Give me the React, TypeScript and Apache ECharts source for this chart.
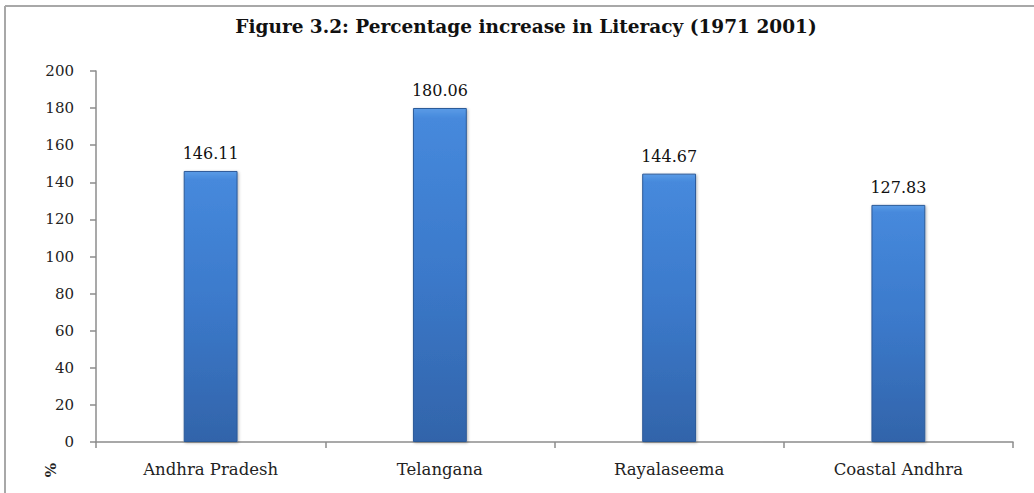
import React, { useEffect, useRef } from "react";
import * as echarts from "echarts";

const categories = ["Andhra Pradesh", "Telangana", "Rayalaseema", "Coastal Andhra"];
const values = [146.11, 180.06, 144.67, 127.83];
const valueLabels = ["146.11", "180.06", "144.67", "127.83"];
const titleText = "Figure 3.2: Percentage increase in Literacy (1971 2001)";
const yMin = 0;
const yMax = 200;
const yInterval = 20;

export default function App() {
  const ref = useRef<HTMLDivElement>(null);
  useEffect(() => {
    if (!ref.current) return;
    const chart = echarts.init(ref.current, null, { renderer: "svg" });
    const serif = "DejaVu Serif";
    chart.setOption({
      animation: false,
      backgroundColor: "#ffffff",
      title: {
        text: titleText,
        left: 521,
        top: 12,
        textAlign: "center",
        textStyle: { fontFamily: serif, fontWeight: "bold", fontSize: 18.5, color: "#111" },
      },
      grid: { left: 96, right: 21, top: 71, bottom: 51, containLabel: false },
      xAxis: {
        type: "category",
        data: categories,
        axisLine: { lineStyle: { color: "#8c8c8c", width: 1.5 } },
        axisTick: { show: true, length: 6, lineStyle: { color: "#8c8c8c", width: 1.5 } },
        axisLabel: { fontFamily: serif, fontSize: 16.5, color: "#222", margin: 19 },
      },
      yAxis: {
        type: "value",
        min: yMin,
        max: yMax,
        interval: yInterval,
        splitLine: { show: false },
        axisLine: { show: true, lineStyle: { color: "#8c8c8c", width: 1.5 } },
        axisTick: { show: true, length: 6, lineStyle: { color: "#8c8c8c", width: 1.5 } },
        axisLabel: { fontFamily: serif, fontSize: 15, color: "#222", margin: 22 },
      },
      graphic: [
        {
          type: "line",
          shape: { x1: 5, y1: 6, x2: 1040, y2: 6 },
          style: { stroke: "#a8a8a8", lineWidth: 2 },
        },
        {
          type: "line",
          shape: { x1: 5, y1: 6, x2: 5, y2: 500 },
          style: { stroke: "#a8a8a8", lineWidth: 2 },
        },
        {
          type: "text",
          x: 51,
          y: 470,
          rotation: Math.PI / 2,
          style: {
            text: "%",
            fontFamily: serif,
            fontSize: 15,
            fontWeight: "bold",
            fill: "#222",
            align: "center",
            verticalAlign: "middle",
          },
        },
      ],
      series: [
        {
          type: "bar",
          data: values,
          barWidth: "23.5%",
          itemStyle: {
            color: {
              type: "linear",
              x: 0,
              y: 0,
              x2: 0,
              y2: 1,
              colorStops: [
                { offset: 0, color: "#5a9be6" },
                { offset: 0.03, color: "#4689dc" },
                { offset: 0.5, color: "#3b79ca" },
                { offset: 1, color: "#3264aa" },
              ],
            },
            borderColor: "#2c5a98",
            borderWidth: 1,
            shadowColor: "rgba(0,0,0,0.3)",
            shadowBlur: 3,
            shadowOffsetX: 1,
            shadowOffsetY: 1,
          },
          label: {
            show: true,
            position: "top",
            distance: 9,
            fontFamily: serif,
            fontSize: 16,
            color: "#111",
            formatter: (p: any) => valueLabels[p.dataIndex],
          },
        },
      ],
    });
    return () => chart.dispose();
  }, []);
  return <div ref={ref} style={{ width: 1034, height: 493, position: "absolute", left: 0, top: 0 }} />;
}
